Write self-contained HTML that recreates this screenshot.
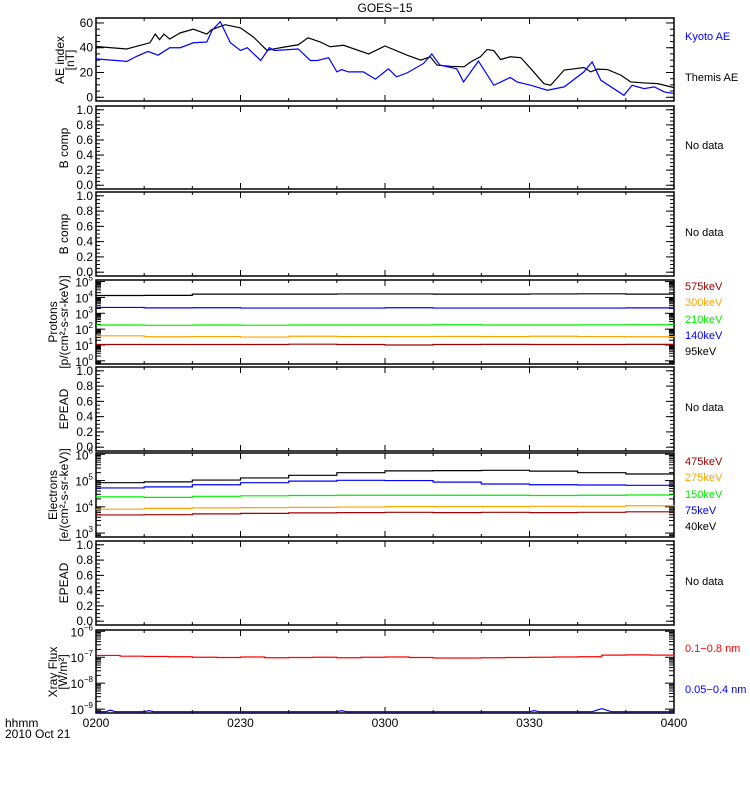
<!DOCTYPE html>
<html><head><meta charset="utf-8"><style>
html,body{margin:0;padding:0;background:#fff;}
svg{display:block;font-family:"Liberation Sans",sans-serif;}
</style></head><body>
<svg id="chart" width="750" height="800" xmlns="http://www.w3.org/2000/svg">
<text x="385" y="12" text-anchor="middle" font-size="12">GOES−15</text>
<g id="g"></g>
</svg>
<script>
// ---- data ----
const aeThemisT=[0,6.4,11.2,12.3,13.2,14.1,15.3,17.5,20.2,23,24,26.8,30,32.7,35.5,36.9,39,42,44,46.6,48.6,51.4,56.6,60,64.6,67.4,69.4,70.8,73.6,76.4,77.8,79.8,81.2,82.6,84,86,88.2,90.3,93,94.4,97.2,99.3,101.3,102.7,104.1,106.2,109,111,113.8,116.6,120];
const aeThemisV=[41,39,44,51,46.5,51,47,52,55,51,54.6,58.6,56,48.6,37.8,39,40.5,42.4,48,44.6,40.8,42,35,41.4,34,30,32.7,26,25,24.6,28.6,32.7,38.6,37.6,30.5,32.7,32,23,11,9.7,22,23,24,20.5,22.7,22.4,17.8,12.4,11.6,11,7.8];
const aeKyotoT=[0,6.4,8.4,10.8,12.9,15.3,17.5,20.2,23,24.1,25.8,27.9,30,31.4,34.2,36,37,42,44.5,46,48.3,50,51,52.4,55.5,58,60.7,62.4,64.6,68,69.7,71.4,74.9,76.3,79.4,82.6,86,87.4,90.3,93.7,97.2,101.3,103,104.8,109.6,111.3,113.8,115.9,118,120];
const aeKyotoV=[31,29,33,37,34,40,40,44,44.6,54,61,44,37.8,40,29.7,40,37.8,39,29.7,29.7,32,20.5,22.4,20.5,20.5,14.6,23,16.5,19.7,27.3,35,26,23,12.4,29.2,9.7,16,12.4,9.7,5.7,8.4,20.5,28.6,13.8,1.6,9.7,7,8.4,4.3,3];
const chanT=[0,10,20,30,40,50,60,70,80,90,100,110,120];
const p95=[4.12,4.13,4.21,4.21,4.21,4.22,4.22,4.21,4.21,4.22,4.23,4.21,4.21];
const p140=[3.37,3.34,3.35,3.33,3.33,3.33,3.35,3.33,3.33,3.33,3.33,3.34,3.37];
const p210=[2.26,2.24,2.26,2.25,2.26,2.26,2.26,2.28,2.26,2.26,2.27,2.28,2.28];
const p300=[1.58,1.52,1.53,1.50,1.55,1.53,1.53,1.54,1.53,1.55,1.53,1.52,1.55];
const p575=[1.03,1.03,1.03,1.03,1.05,1.03,1.00,1.03,1.04,1.03,1.03,1.04,1.03];
const e40=[4.92,4.95,5.02,5.10,5.20,5.30,5.37,5.38,5.39,5.36,5.30,5.25,5.23];
const e75=[4.72,4.76,4.84,4.92,4.98,5.01,5.00,4.94,4.87,4.84,4.83,4.82,4.82];
const e150=[4.38,4.36,4.40,4.42,4.43,4.44,4.44,4.44,4.44,4.43,4.44,4.45,4.45];
const e275=[3.91,3.94,3.96,3.97,3.98,3.99,4.01,4.01,4.01,4.02,4.02,4.04,4.06];
const e475=[3.69,3.70,3.73,3.75,3.77,3.78,3.79,3.78,3.79,3.78,3.79,3.81,3.82];
const xLongT=[0,5,10,15,20,25,30,35,40,45,50,55,60,65,70,75,80,85,90,95,100,105,110,115,120];
const xLongV=[-6.93,-6.96,-6.97,-6.98,-7.0,-7.01,-6.99,-7.02,-7.01,-7.0,-7.02,-7.0,-6.99,-7.01,-7.03,-7.03,-7.02,-7.01,-7.0,-6.99,-6.98,-6.92,-6.91,-6.92,-6.97];
const xShortT=[0,2,3,4,10,11,12,50,51,52,90,91,92,103,104,105,106,107,120];
const xShortV=[-9.1,-9.1,-9.04,-9.1,-9.1,-9.06,-9.1,-9.1,-9.06,-9.1,-9.1,-9.06,-9.1,-9.1,-9.04,-8.98,-9.04,-9.1,-9.1];
const xTickLabels=["0200","0230","0300","0330","0400"];

// ---- layout ----
const X0=96,X1=674;
const xs=t=>X0+t*(X1-X0)/120;
const NS="http://www.w3.org/2000/svg";
const G=document.getElementById('g');
function el(tag,attrs,parent){const e=document.createElementNS(NS,tag);for(const k in attrs)e.setAttribute(k,attrs[k]);(parent||G).appendChild(e);return e;}
function line(x1,y1,x2,y2,c){return el('line',{x1,y1,x2,y2,stroke:c||'#000','stroke-width':1});}
function text(x,y,s,o){const t=el('text',Object.assign({x,y,'font-size':12},o||{}));t.textContent=s;return t;}

const panels=[
 {n:'ae',top:18,bot:101,min:-3,max:64,type:'lin',maj:[0,20,40,60],minorStep:5},
 {n:'bcomp1',top:106,bot:189,min:-0.05,max:1.05,type:'lin',maj:[0,0.2,0.4,0.6,0.8,1.0],minorStep:0.05},
 {n:'bcomp2',top:192,bot:276,min:-0.05,max:1.05,type:'lin',maj:[0,0.2,0.4,0.6,0.8,1.0],minorStep:0.05},
 {n:'protons',top:280,bot:364,min:-0.2,max:5.1,type:'log'},
 {n:'epead1',top:367,bot:451,min:-0.05,max:1.05,type:'lin',maj:[0,0.2,0.4,0.6,0.8,1.0],minorStep:0.05},
 {n:'electrons',top:453,bot:537,min:2.85,max:6.05,type:'log'},
 {n:'epead2',top:541,bot:625,min:-0.05,max:1.05,type:'lin',maj:[0,0.2,0.4,0.6,0.8,1.0],minorStep:0.05},
 {n:'xray',top:630,bot:713,min:-9.15,max:-5.95,type:'log'}
];
function ys(p,v){return p.bot-(v-p.min)*(p.bot-p.top)/(p.max-p.min);}

panels.forEach(p=>{
  const fr=el('rect',{x:X0,y:p.top,width:X1-X0,height:p.bot-p.top,fill:'none',stroke:'#000','stroke-width':1.5});
  
  
  for(let t=0;t<=120;t+=10){const L=(t%30===0)?6:3;line(xs(t),p.bot,xs(t),p.bot-L);line(xs(t),p.top,xs(t),p.top+L);}
  if(p.type==='lin'){
    for(let v=0;v<=p.maj[p.maj.length-1]+1e-9;v+=p.minorStep){const y=ys(p,v);line(X0,y,X0+4,y);line(X1,y,X1-4,y);}
    p.maj.forEach(v=>{const y=ys(p,v);line(X0,y,X0+8,y);line(X1,y,X1-8,y);
      const t=text(X0-3,y+4,p.n==='ae'?String(v):v.toFixed(1),{'text-anchor':'end'});
      
      });
  } else {
    const lo=Math.ceil(p.min),hi=Math.floor(p.max);
    for(let d=lo-1;d<=hi;d++){for(let m=2;m<10;m++){const v=d+Math.log10(m);if(v<p.min||v>p.max)continue;const y=ys(p,v);line(X0,y,X0+5,y);line(X1,y,X1-5,y);}}
    for(let d=lo;d<=hi;d++){const y=ys(p,d);line(X0,y,X0+9,y);line(X1,y,X1-9,y);
      const t=el('text',{x:X0-3,y:y+5,'font-size':12,'text-anchor':'end'});
      
      
      t.textContent='10';const s=el('tspan',{dy:-6,'font-size':8},t);s.textContent=String(d).replace('-','−');}
  }
});
xTickLabels.forEach((s,i)=>{const t=text(xs(i*30),727,s,{'text-anchor':'middle'});
  
  });
text(5,727,'hhmm');
text(5,738,'2010 Oct 21');

function series(p,T,V,color,name,step){
  let d='';T.forEach((t,i)=>{const x=xs(t),y=ys(p,V[i]);
    if(i===0)d+='M'+x+' '+y;else if(step){d+='H'+x+'V'+y;}else d+='L'+x+' '+y;});
  if(step)d+='H'+xs(120);
  const e=el('path',{d,fill:'none',stroke:color,'stroke-width':1.2});
  
  
}
const P=panels;
series(P[0],aeThemisT,aeThemisV,'#000','themis-ae-line');
series(P[0],aeKyotoT,aeKyotoV,'#0000ff','kyoto-ae-line');
series(P[3],chanT,p95,'#000','protons-95kev-line',true);
series(P[3],chanT,p140,'#0000ff','protons-140kev-line',true);
series(P[3],chanT,p210,'#00ee00','protons-210kev-line',true);
series(P[3],chanT,p300,'#ffa500','protons-300kev-line',true);
series(P[3],chanT,p575,'#a00000','protons-575kev-line',true);
series(P[5],chanT,e40,'#000','electrons-40kev-line',true);
series(P[5],chanT,e75,'#0000ff','electrons-75kev-line',true);
series(P[5],chanT,e150,'#00ee00','electrons-150kev-line',true);
series(P[5],chanT,e275,'#ffa500','electrons-275kev-line',true);
series(P[5],chanT,e475,'#a00000','electrons-475kev-line',true);
series(P[7],xLongT,xLongV,'#ff0000','xray-long-line',true);
series(P[7],xShortT,xShortV,'#0000ff','xray-short-line');

// y-axis titles (rotated), baselines given explicitly
function ytitle(lines,xsB,cy,name){lines.forEach((s,i)=>{
  const t=el('text',{x:0,y:0,'font-size':12,'text-anchor':'middle',transform:`translate(${xsB[i]},${cy}) rotate(-90)`});
  t.textContent=s;});}
ytitle(['AE index','[nT]'],[64,74],60,'ae-y-axis-title');
ytitle(['B comp'],[68],148,'bcomp-y-axis-title');
ytitle(['B comp'],[68],234,'bcomp-y-axis-title-2');
ytitle(['Protons','[p/(cm²-s-sr-keV)]'],[57,68],322,'protons-y-axis-title');
ytitle(['EPEAD'],[68],409,'epead-y-axis-title');
ytitle(['Electrons','[e/(cm²-s-sr-keV)]'],[57,68],495,'electrons-y-axis-title');
ytitle(['EPEAD'],[68],583,'epead-y-axis-title-2');
ytitle(['Xray Flux','[W/m²]'],[57,67],672,'xray-y-axis-title');

function rl(y,s,c,name){const t=text(685,y,s,{fill:c,'font-size':11});}
rl(40,'Kyoto AE','#0000ff','legend-kyoto-ae');
rl(81,'Themis AE','#000','legend-themis-ae');
rl(149,'No data','#000','bcomp-no-data');
rl(236,'No data','#000','bcomp2-no-data');
rl(290,'575keV','#a00000','legend-p575');
rl(306,'300keV','#ffa500','legend-p300');
rl(323,'210keV','#00ee00','legend-p210');
rl(339,'140keV','#0000ff','legend-p140');
rl(355,'95keV','#000','legend-p95');
rl(411,'No data','#000','epead-no-data');
rl(465,'475keV','#a00000','legend-e475');
rl(481,'275keV','#ffa500','legend-e275');
rl(498,'150keV','#00ee00','legend-e150');
rl(514,'75keV','#0000ff','legend-e75');
rl(530,'40keV','#000','legend-e40');
rl(585,'No data','#000','epead2-no-data');
rl(652,'0.1−0.8 nm','#ff0000','legend-xray-long');
rl(693,'0.05−0.4 nm','#0000ff','legend-xray-short');
</script>
</body></html>
